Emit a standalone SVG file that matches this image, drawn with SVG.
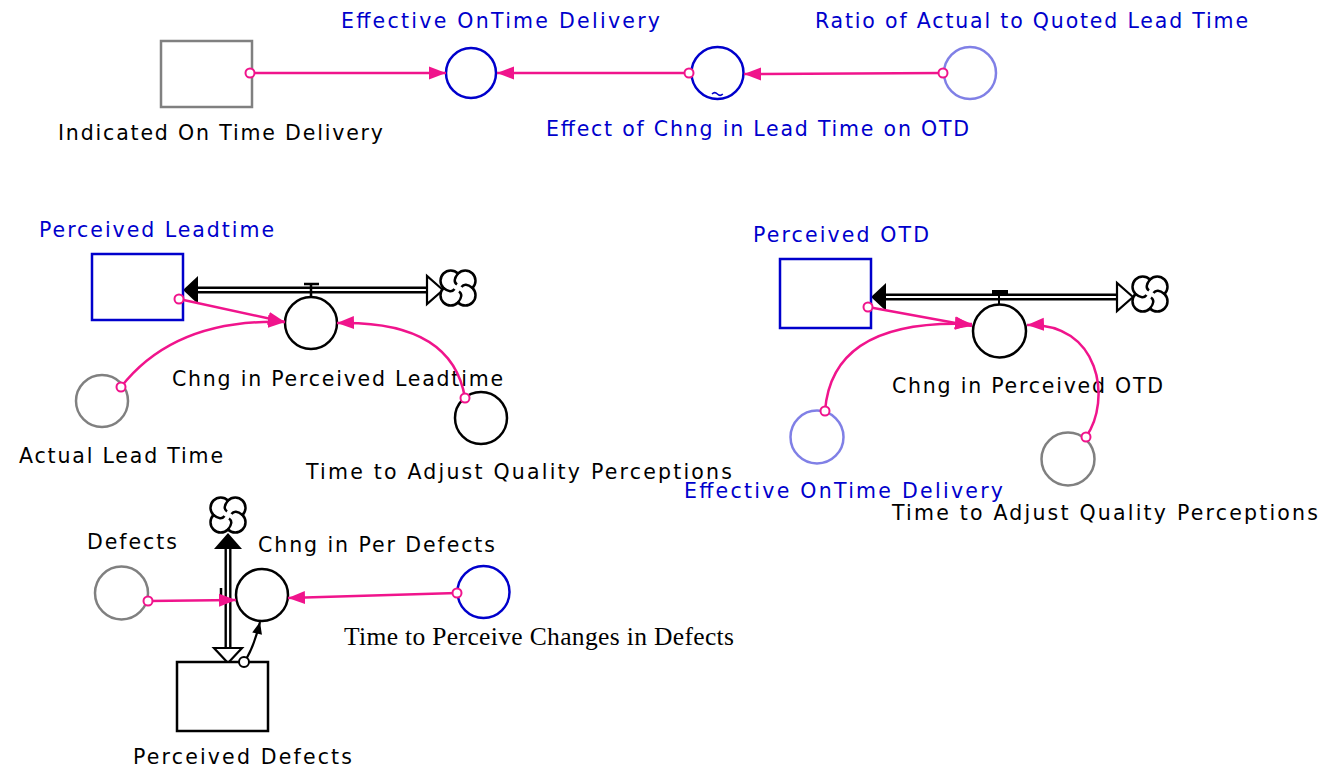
<svg xmlns="http://www.w3.org/2000/svg" width="1335" height="768" viewBox="0 0 1335 768">
<style>
.lbl{font-family:"DejaVu Sans",Verdana,sans-serif;font-size:20.5px;text-anchor:middle;fill:#000}
.blue{fill:#0000cc}
.ser{font-family:"Liberation Serif","Times New Roman",serif;font-size:25.5px;text-anchor:middle;fill:#000}
.aux{fill:#fff;stroke-width:2.5}
.stock{fill:#fff;stroke-width:2.5}
.k{stroke:#000}.b{stroke:#0000cc}.lb{stroke:#8080e6}.g{stroke:#808080}
.lnk{fill:none;stroke:#f0148c;stroke-width:2.5;marker-end:url(#ap)}
.org{fill:#fff;stroke:#f0148c;stroke-width:2}
.pipeo{stroke:#000;stroke-width:7;fill:none}
.pipei{stroke:#fff;stroke-width:2.2;fill:none}
.cloud{fill:#fff;stroke:#000;stroke-width:2.5}
</style>
<defs>
<marker id="ap" viewBox="-17 -7 18 14" refX="0" refY="0" markerWidth="18" markerHeight="14" markerUnits="userSpaceOnUse" orient="auto"><path d="M0,0 L-17,-6.5 L-17,6.5 Z" fill="#f0148c"/></marker>
<marker id="ak" viewBox="-13 -6 14 12" refX="0" refY="0" markerWidth="14" markerHeight="12" markerUnits="userSpaceOnUse" orient="auto"><path d="M0,0 L-12,-5 L-12,5 Z" fill="#000"/></marker>
<g id="cloudsym">
<path class="cloud" d="M0,-14.5 A10,10 0 1,1 14.5,0 A10,10 0 1,1 0,14.5 A10,10 0 1,1 -14.5,0 A10,10 0 1,1 0,-14.5 Z"/>
<path fill="none" stroke="#000" stroke-width="2.5" d="M0,-14.5 Q-6,-7 -1,-3.5 M14.5,0 Q7,-6 3.5,-1 M0,14.5 Q6,7 1,3.5 M-14.5,0 Q-7,6 -3.5,1"/>
</g>
</defs>

<g id="flow-leadtime">
<line class="pipeo" x1="190" y1="290" x2="430" y2="290"/>
<line class="pipei" x1="190" y1="290" x2="430" y2="290"/>
<path d="M183,290 L198,276 L198,304 Z" fill="#000"/>
<path d="M443,290 L427,276 L427,304 Z" fill="#fff" stroke="#000" stroke-width="2.2"/>
<use href="#cloudsym" x="458" y="288"/>
<path d="M304,284 L319,284 M311,284 L311,297" stroke="#000" stroke-width="2.5" fill="none"/>
</g>
<g id="flow-otd">
<line class="pipeo" x1="878" y1="297" x2="1120" y2="297"/>
<line class="pipei" x1="878" y1="297" x2="1120" y2="297"/>
<path d="M871,297 L886,283 L886,311 Z" fill="#000"/>
<path d="M1133,297 L1117,283 L1117,311 Z" fill="#fff" stroke="#000" stroke-width="2.2"/>
<use href="#cloudsym" x="1150" y="294"/>
<rect x="992" y="290" width="16" height="4" fill="#000"/>
<line x1="999" y1="294" x2="999" y2="304" stroke="#000" stroke-width="2"/>
</g>
<g id="flow-defects">
<line class="pipeo" x1="228" y1="542" x2="228" y2="652"/>
<line class="pipei" x1="228" y1="542" x2="228" y2="652"/>
<path d="M228,533 L214,549 L242,549 Z" fill="#000"/>
<path d="M228,663 L214,648 L242,648 Z" fill="#fff" stroke="#000" stroke-width="2.2"/>
<use href="#cloudsym" x="228" y="515"/>
<line x1="221" y1="588" x2="221" y2="601" stroke="#000" stroke-width="2.5"/>
</g>

<g id="indicated-on-time-delivery">
<rect class="stock g" x="161" y="41" width="91" height="66"/>
<text class="lbl" x="220.5" y="140" textLength="325" lengthAdjust="spacing">Indicated On Time Delivery</text>
</g>
<g id="effective-ontime-delivery">
<circle class="aux b" cx="471" cy="73" r="25"/>
<text class="lbl blue" x="500.5" y="28" textLength="319" lengthAdjust="spacing">Effective OnTime Delivery</text>
</g>
<g id="effect-of-chng">
<circle class="aux b" cx="717.5" cy="73" r="26"/>
<path d="M712,94 q2.7,-2.7 5.4,0 t5.4,0" fill="none" stroke="#0000cc" stroke-width="1.5"/>
<text class="lbl blue" x="757.5" y="136" textLength="423" lengthAdjust="spacing">Effect of Chng in Lead Time on OTD</text>
</g>
<g id="ratio">
<circle class="aux lb" cx="970" cy="73" r="26"/>
<text class="lbl blue" x="1031.5" y="28" textLength="433" lengthAdjust="spacing">Ratio of Actual to Quoted Lead Time</text>
</g>

<g id="perceived-leadtime">
<rect class="stock b" x="92" y="254" width="91" height="66"/>
<text class="lbl blue" x="156.5" y="237" textLength="235" lengthAdjust="spacing">Perceived Leadtime</text>
</g>
<g id="chng-in-perceived-leadtime">
<circle class="aux k" cx="311" cy="323" r="26"/>
<text class="lbl" x="337.5" y="386" textLength="331" lengthAdjust="spacing">Chng in Perceived Leadtime</text>
</g>
<g id="actual-lead-time">
<circle class="aux g" cx="102" cy="401" r="26"/>
<text class="lbl" x="121" y="463" textLength="204" lengthAdjust="spacing">Actual Lead Time</text>
</g>
<g id="time-to-adjust-1">
<circle class="aux k" cx="481" cy="418" r="26"/>
<text class="lbl" x="519" y="479" textLength="426" lengthAdjust="spacing">Time to Adjust Quality Perceptions</text>
</g>

<g id="perceived-otd">
<rect class="stock b" x="780" y="259" width="91" height="69"/>
<text class="lbl blue" x="841" y="242" textLength="176" lengthAdjust="spacing">Perceived OTD</text>
</g>
<g id="chng-in-perceived-otd">
<circle class="aux k" cx="999.5" cy="331" r="26.5"/>
<text class="lbl" x="1027.5" y="393" textLength="271" lengthAdjust="spacing">Chng in Perceived OTD</text>
</g>
<g id="effective-ontime-delivery-2">
<circle class="aux lb" cx="817" cy="437" r="26.5"/>
<text class="lbl blue" x="843.5" y="498" textLength="319" lengthAdjust="spacing">Effective OnTime Delivery</text>
</g>
<g id="time-to-adjust-2">
<circle class="aux g" cx="1068" cy="459" r="26.5"/>
<text class="lbl" x="1105" y="520" textLength="426" lengthAdjust="spacing">Time to Adjust Quality Perceptions</text>
</g>

<g id="defects">
<circle class="aux g" cx="121.5" cy="593" r="26.5"/>
<text class="lbl" x="132" y="549" textLength="90" lengthAdjust="spacing">Defects</text>
</g>
<g id="chng-in-per-defects">
<circle class="aux k" cx="262" cy="595" r="26"/>
<text class="lbl" x="376.5" y="552" textLength="237" lengthAdjust="spacing">Chng in Per Defects</text>
</g>
<g id="time-to-perceive">
<circle class="aux b" cx="483.5" cy="592" r="26"/>
<text class="ser" x="539" y="645" textLength="390" lengthAdjust="spacing">Time to Perceive Changes in Defects</text>
</g>
<g id="perceived-defects">
<rect class="stock k" x="177" y="662" width="91" height="69"/>
<text class="lbl" x="242.5" y="764" textLength="219" lengthAdjust="spacing">Perceived Defects</text>
</g>

<g id="connectors">
<path class="lnk" d="M250,73 L446,73"/>
<path class="lnk" d="M689,73 L497,73"/>
<path class="lnk" d="M943,73 L744,74"/>
<circle class="org" cx="250" cy="73" r="4.5"/>
<circle class="org" cx="689" cy="73" r="4.5"/>
<circle class="org" cx="943" cy="73" r="4.5"/>
<path class="lnk" d="M179,299 L285,322"/>
<path class="lnk" d="M121,387 Q175,318 285,322"/>
<path class="lnk" d="M465,398 Q452,320 337,323"/>
<circle class="org" cx="179" cy="299" r="4.5"/>
<circle class="org" cx="121" cy="387" r="4.5"/>
<circle class="org" cx="465" cy="398" r="4.5"/>
<path class="lnk" d="M868,307 L972,326"/>
<path class="lnk" d="M825,411 Q832,318 972,324"/>
<path class="lnk" d="M1086,437 C1112,400 1100,322 1027,325"/>
<circle class="org" cx="868" cy="307" r="4.5"/>
<circle class="org" cx="825" cy="411" r="4.5"/>
<circle class="org" cx="1086" cy="437" r="4.5"/>
<path class="lnk" d="M148,601 L236,600"/>
<path class="lnk" d="M457,593 L288,598"/>
<circle class="org" cx="148" cy="601" r="4.5"/>
<circle class="org" cx="457" cy="593" r="4.5"/>
<path d="M244,662 Q253,650 260,622" fill="none" stroke="#000" stroke-width="2.2" marker-end="url(#ak)"/>
<circle cx="244" cy="662" r="5" fill="#fff" stroke="#000" stroke-width="2"/>
</g>
</svg>
